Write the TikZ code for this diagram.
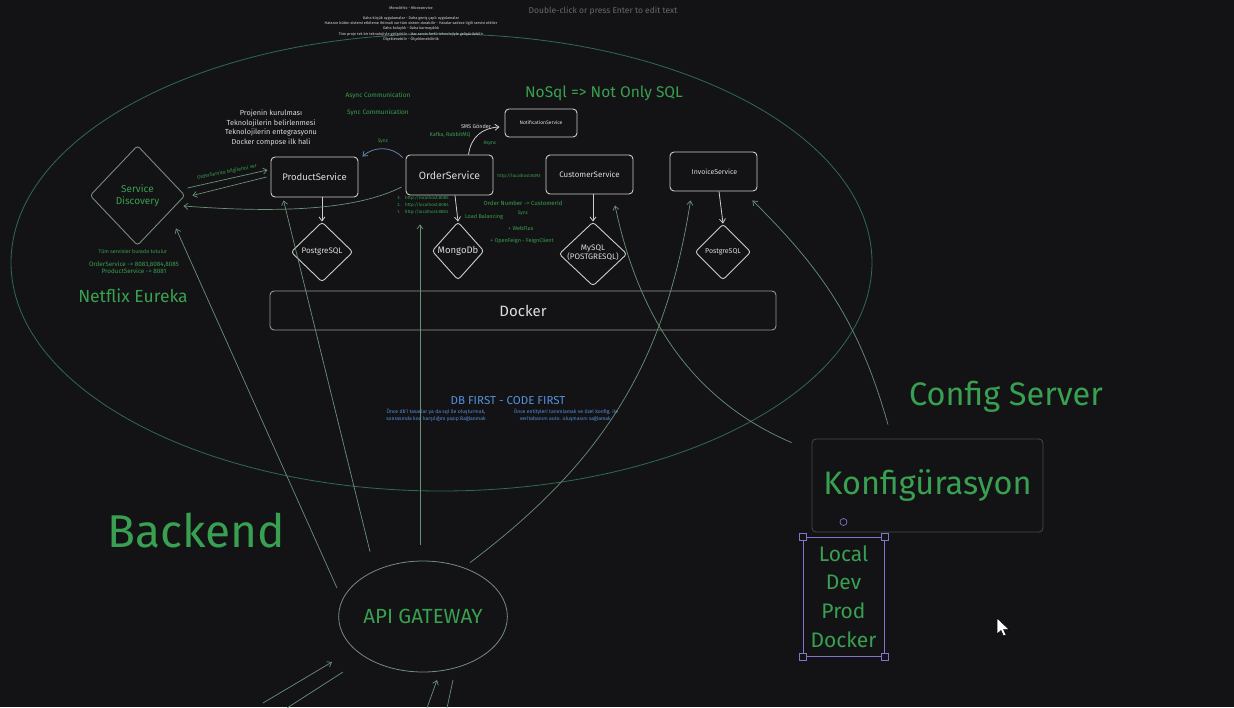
\documentclass[tikz,border=0pt]{standalone}
\usepackage{fontspec}
\setmainfont{Fira Sans}
\usetikzlibrary{shapes.geometric,arrows.meta}
\definecolor{bgc}{RGB}{19,19,21}
\definecolor{gtxt}{RGB}{56,160,80}
\definecolor{btxt}{RGB}{84,146,220}
\definecolor{wtxt}{RGB}{220,220,220}
\definecolor{boxc}{RGB}{205,205,205}
\definecolor{dockc}{RGB}{150,150,150}
\definecolor{ellc}{RGB}{48,105,85}
\definecolor{linec}{RGB}{105,145,120}
\definecolor{gwc}{RGB}{115,140,125}
\definecolor{konfc}{RGB}{62,78,68}
\definecolor{selc}{RGB}{128,118,205}
\definecolor{hintc}{RGB}{105,105,110}
\definecolor{syncc}{RGB}{95,130,170}
\begin{document}
\begin{tikzpicture}[x=1pt,y=-1pt,
  svc/.style={draw=boxc,line width=0.9pt,rounded corners=4pt,inner sep=0pt,text=wtxt},
  db/.style={draw=boxc,line width=0.9pt,diamond,rounded corners=3pt,inner sep=0pt},
  tip/.style={-{Straight Barb[length=4pt,width=6pt]}},
  arr/.style={draw=boxc,line width=0.8pt,tip},
  syncarr/.style={draw=syncc,line width=0.8pt,tip},
  ln/.style={draw=linec,line width=0.7pt},
  lnarr/.style={ln,tip},
  gl/.style={text=gtxt,inner sep=0pt},
  wl/.style={text=wtxt,inner sep=0pt},
  bl/.style={text=btxt,inner sep=0pt},
  handle/.style={draw=selc,fill=bgc,line width=0.7pt,minimum size=7pt,inner sep=0pt},
]
\useasboundingbox (0,0) rectangle (1234,707);
\fill[bgc] (0,0) rectangle (1234,707);

% big ellipse
\node[draw=ellc,ellipse,line width=0.8pt,minimum width=861pt,minimum height=457pt,inner sep=0pt] (big) at (441.5,262.5) {};

% top texts
\node[text=hintc,inner sep=0pt,font={\fontsize{8.5}{10}\selectfont}] (hint) at (603,11) {Double-click or press Enter to edit text};
\node[wl,align=center,font={\fontsize{3.8}{5.2}\selectfont}] (top) at (411,24) {Monolithic - Microservice\\[4.5pt]
Daha küçük uygulamalar - Daha geniş çaplı uygulamalar\\
Hatanın bütün sistemi etkileme ihtimali var tüm sistem durabilir - Hatalar sadece ilgili servisi etkiler\\
Daha kolaylık - Daha karmaşıklık\\
Tüm proje tek bir teknolojiyle geliştirilir - Her servis farklı teknolojiyle geliştirilebilir\\
Ölçeklenebilir - Ölçeklenebilirlik};

% service discovery
\node[db,draw=gwc,minimum width=95pt,minimum height=100pt,text=gtxt,align=center,font={\fontsize{10}{12}\selectfont}] (sd) at (137.5,195.5) {Service\\Discovery};

% services
\node[svc,minimum width=87pt,minimum height=40pt,font={\fontsize{9.5}{11}\selectfont}] (prod) at (314.5,177) {ProductService};
\node[svc,minimum width=87pt,minimum height=40pt,font={\fontsize{10.5}{12}\selectfont}] (order) at (449.5,175) {OrderService};
\node[svc,minimum width=72pt,minimum height=28pt,font={\fontsize{5}{6}\selectfont}] (notif) at (541,123) {NotificationService};
\node[svc,minimum width=87pt,minimum height=39pt,font={\fontsize{8}{9}\selectfont}] (cust) at (589.5,174.5) {CustomerService};
\node[svc,minimum width=87pt,minimum height=39pt,font={\fontsize{7}{8}\selectfont}] (inv) at (713.5,171.5) {\ InvoiceService};

% databases
\node[db,minimum width=62pt,minimum height=60pt] (pg1) at (322,252) {};
\node[wl,font={\fontsize{8}{9}\selectfont}] (pg1t) at (pg1) {PostgreSQL};
\node[db,minimum width=52pt,minimum height=58pt] (mongo) at (458,251) {};
\node[wl,font={\fontsize{9.5}{11}\selectfont}] (mongot) at (mongo) {MongoDb};
\node[db,minimum width=68pt,minimum height=64pt] (mysql) at (593,254) {};
\node[wl,align=center,font={\fontsize{8}{8.5}\selectfont}] (mysqlt) at (593,253) {MySQL\\(POSTGRESQL)};
\node[db,minimum width=56pt,minimum height=56pt] (pg2) at (723,252) {};
\node[wl,font={\fontsize{7}{8}\selectfont}] (pg2t) at (pg2) {PostgreSQL};

% docker
\node[draw=dockc,rounded corners=4pt,line width=0.9pt,minimum width=506pt,minimum height=39pt,inner sep=0pt,text=wtxt,font={\fontsize{15}{17}\selectfont}] (docker) at (523,310.5) {Docker};

% gateway
\node[draw=gwc,ellipse,line width=0.8pt,minimum width=164pt,minimum height=111pt,inner sep=0pt,text=gtxt,font={\fontsize{20.5}{22}\selectfont}] (gw) at (423,616.5) {API GATEWAY};

% config
\node[draw=konfc,rounded corners=4pt,line width=0.8pt,minimum width=231pt,minimum height=93pt,inner sep=0pt,text=gtxt,font={\fontsize{32.5}{36}\selectfont}] (konf) at (927.5,485.5) {Konfigürasyon};
\node[draw=selc,line width=0.8pt,minimum width=81pt,minimum height=119pt,inner sep=0pt,text=gtxt,align=center,font={\fontsize{21}{28.7}\selectfont}] (env) at (843.5,596.5) {Local\\Dev\\Prod\\Docker};
\node[handle] (h1) at (env.north west) {};
\node[handle] (h2) at (env.north east) {};
\node[handle] (h3) at (env.south west) {};
\node[handle] (h4) at (env.south east) {};
\node[draw=selc,circle,line width=0.7pt,minimum size=7pt,inner sep=0pt] (rot) at (843.5,522) {};

% labels
\node[gl,font={\fontsize{15.5}{17}\selectfont}] (nosql) at (604,93) {NoSql => Not Only SQL};
\node[gl,font={\fontsize{6.5}{8}\selectfont}] (asyncc) at (378,96) {Async Communication};
\node[gl,font={\fontsize{6.5}{8}\selectfont}] (syncc) at (378,113) {Sync Communication};
\node[wl,align=center,font={\fontsize{7.3}{9.7}\selectfont}] (proj) at (271,128) {Projenin kurulması\\Teknolojilerin belirlenmesi\\Teknolojilerin entegrasyonu\\Docker compose ilk hali};
\node[gl,font={\fontsize{5}{6}\selectfont}] (synclbl) at (383,141) {Sync};
\node[wl,font={\fontsize{5.5}{6}\selectfont}] (sms) at (476,126) {SMS Gönder};
\node[gl,font={\fontsize{5.5}{6}\selectfont}] (kafka) at (450,135) {Kafka, RabbitMQ};
\node[gl,font={\fontsize{5}{6}\selectfont}] (asynclbl) at (490,143) {Async};
\node[gl,font={\fontsize{4.5}{5}\selectfont}] (url4) at (519,176) {http://localhost:8093};
\node[gl,align=left,font={\fontsize{4.5}{7}\selectfont}] (urls) at (423,205) {3.\quad http://localhost:8085\\2.\quad http://localhost:8084\\1.\quad http://localhost:8083};
\node[gl,font={\fontsize{5.5}{6}\selectfont}] (lb) at (484,217) {Load Balancing};
\node[gl,font={\fontsize{6}{7}\selectfont}] (ordnum) at (523,203) {Order Number -> CustomerId};
\node[gl,font={\fontsize{5}{6}\selectfont}] (sync2) at (523,213) {Sync};
\node[gl,font={\fontsize{5.5}{6}\selectfont}] (webflux) at (521,228) {+ WebFlux};
\node[gl,font={\fontsize{5.5}{6}\selectfont}] (feign) at (522,241) {+ OpenFeign - FeignClient};
\node[gl,rotate=11,font={\fontsize{5}{6}\selectfont}] (bilgi) at (227,172) {OrderService bilgilerini ver};
\node[gl,font={\fontsize{5.3}{6}\selectfont}] (tum) at (133,251) {Tüm servisler burada tutulur};
\node[gl,align=center,font={\fontsize{6.3}{7}\selectfont}] (ports) at (134,267.5) {OrderService -> 8083,8084,8085\\ProductService -> 8081};
\node[gl,font={\fontsize{17.5}{19}\selectfont}] (eureka) at (133,296) {Netflix Eureka};
\node[bl,font={\fontsize{11.5}{13}\selectfont}] (dbfirst) at (508,401) {DB FIRST - CODE FIRST};
\node[bl,align=center,font={\fontsize{5.1}{7}\selectfont}] (dbl) at (436,415) {Önce db'i tasarlar ya da sql ile oluşturmak,\\sonrasında kod karşılığını yazıp Bağlanmak};
\node[bl,align=center,font={\fontsize{5.1}{7}\selectfont}] (dbr) at (566,415) {Önce entityleri tanımlamak ve özel konfig. ile\\veritabanını auto. oluşmasını sağlamak.};
\node[gl,font={\fontsize{46}{50}\selectfont}] (backend) at (196,531) {Backend};
\node[gl,font={\fontsize{32.5}{36}\selectfont}] (cfg) at (1006,397) {Config Server};

% connectors service -> db
\draw[arr] (prod.south -| pg1.north) -- (pg1.north);
\draw[arr] ([xshift=5.5pt]order.south) -- (mongo.north);
\draw[arr] (cust.south -| mysql.north) -- (mysql.north);
\draw[arr] ([xshift=5.5pt]inv.south) -- (pg2.north);

% sync / async
\draw[syncarr] ([shift={(-3,3)}]order.north west) .. controls (392,146) and (374,146) .. ([shift={(4,0)}]prod.north east);
\draw[arr] ([xshift=19pt]order.north) .. controls (471,137) and (482,128) .. ([shift={(-5,4)}]notif.west);

% discovery
\draw[lnarr] ([shift={(2,-7.5)}]sd.east) -- ([shift={(-3,-7)}]prod.west);
\draw[lnarr] ([shift={(-4,0)}]prod.west) -- ([shift={(7,0)}]sd.east);
\draw[lnarr] ([shift={(-4,12)}]order.west) .. controls (360,208) and (290,214) .. ([shift={(-2,10.5)}]sd.east);

% gateway
\draw[lnarr] ([shift={(-86,-28.5)}]gw.center) -- ([shift={(38.5,-17.5)}]sd.south);
\draw[lnarr] ([shift={(-53,-9)}]gw.north) -- ([shift={(13,3)}]prod.south west);
\draw[lnarr] ([shift={(-3,-16)}]gw.north) -- ([shift={(-29.5,29)}]order.south);
\draw[lnarr] ([shift={(47,2)}]gw.north) .. controls (602,463) and (665,364) .. ([shift={(21,9)}]inv.south west);

% config
\draw[lnarr] ([shift={(-20,4)}]konf.north west) .. controls (680,395) and (635,300) .. ([shift={(25.5,11)}]cust.south);
\draw[lnarr] ([shift={(-39.5,-14)}]konf.north) .. controls (860,326) and (825,272) .. ([shift={(-5,9)}]inv.south east);

% clients
\coordinate (c1) at (263,703);
\coordinate (c2) at (287,708);
\coordinate (c3) at (427,708);
\coordinate (c4) at (447,708);
\draw[lnarr] (c1) -- ([shift={(-91,45.5)}]gw.center);
\draw[ln] (c2) -- ([shift={(-80,55.5)}]gw.center);
\draw[lnarr] (c3) -- ([shift={(14,63.5)}]gw.center);
\draw[ln] (c4) -- ([shift={(30,63.5)}]gw.center);

% cursor
\filldraw[fill=white,draw=black,line width=0.5pt] (997,618) -- (997,634) -- (1001,630.5) -- (1003.5,636) -- (1006,635) -- (1003.5,629.5) -- (1009,629.5) -- cycle;
\end{tikzpicture}
\end{document}
